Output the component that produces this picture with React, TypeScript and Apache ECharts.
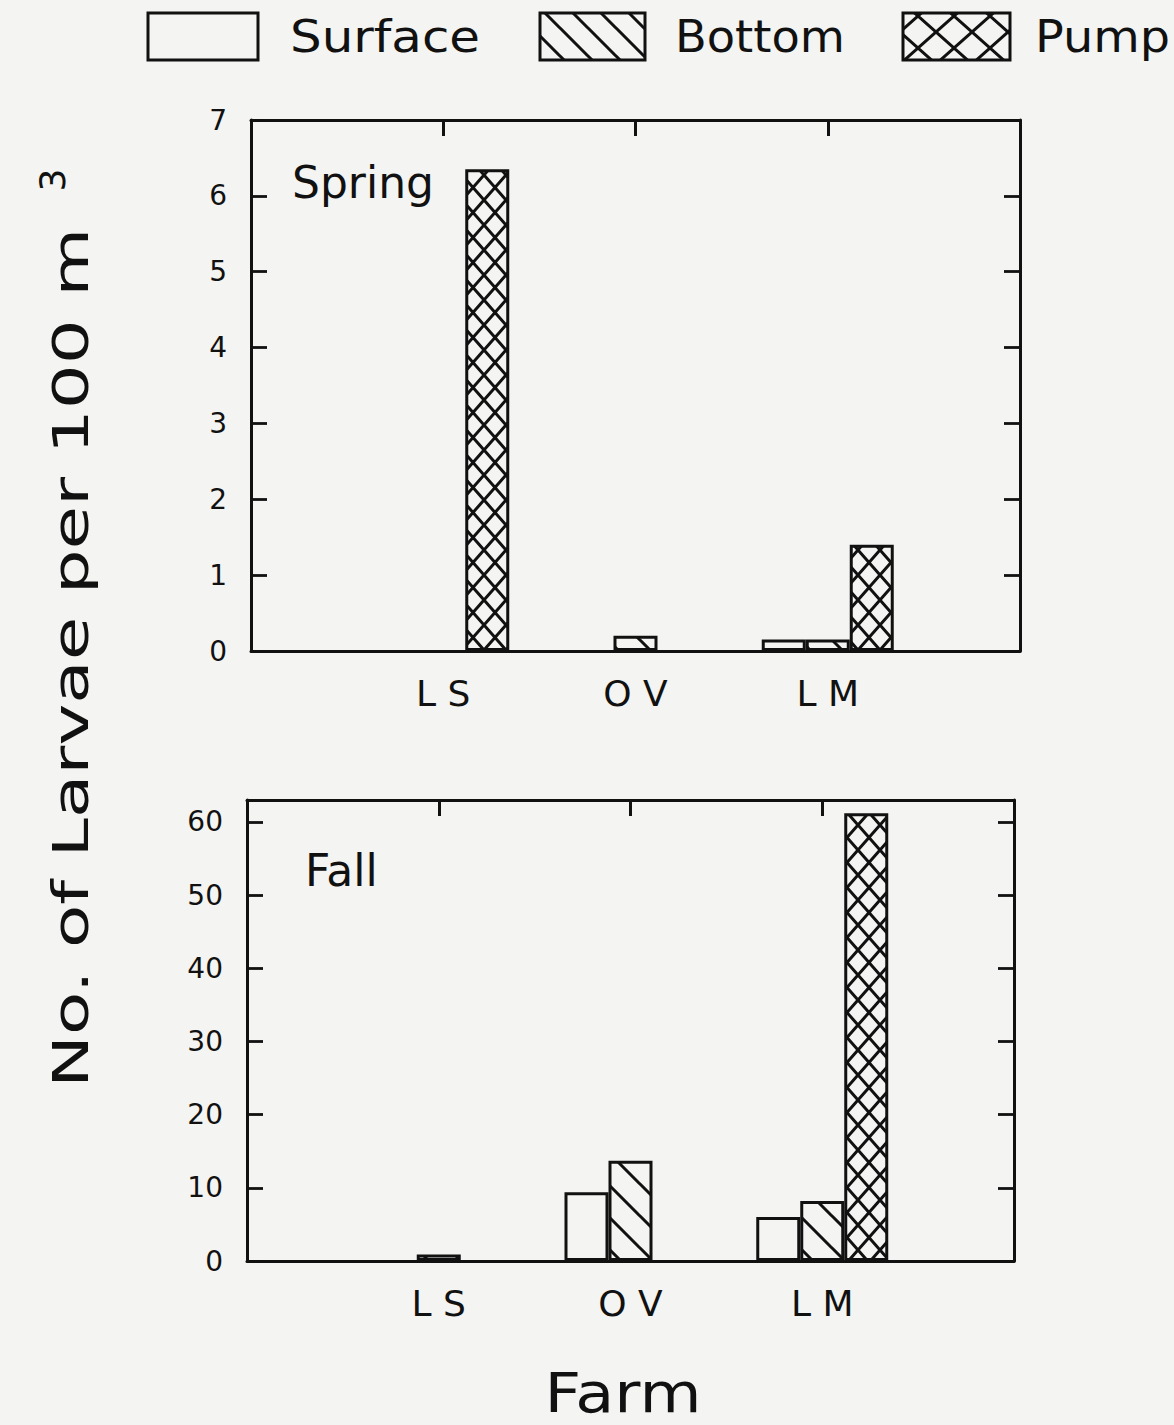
import React, { useEffect, useRef } from "react";
import * as echarts from "echarts";

// ---- data ----
const farms = ["", "L S", "O V", "L M", ""];
const seriesNames = ["Surface", "Bottom", "Pump"];
const springSurface: (number | string)[] = ["-", "-", "-", 0.15, "-"];
const springBottom: (number | string)[] = ["-", "-", 0.2, 0.15, "-"];
const springPump: (number | string)[] = ["-", 6.35, "-", 1.4, "-"];
const fallSurface: (number | string)[] = ["-", "-", 9.4, 6.0, "-"];
const fallBottom: (number | string)[] = ["-", 0.9, 13.7, 8.2, "-"];
const fallPump: (number | string)[] = ["-", "-", "-", 61.2, "-"];
const springAxis = { min: 0, max: 7, interval: 1 };
const fallAxis = { min: 0, max: 63, interval: 10 };
const panelTitles = ["Spring", "Fall"];
const yTitle = "No. of Larvae per 100 m";
const yTitleSup = "3";
const xTitle = "Farm";

const INK = "#111111";
const BG = "#f4f4f2";
const FONT = "DejaVu Sans";

function makeHatch(w: number, h: number, lw: number, cross: boolean) {
  const c = document.createElement("canvas");
  c.width = w;
  c.height = h;
  const g = c.getContext("2d")!;
  g.strokeStyle = INK;
  g.lineWidth = lw;
  g.beginPath();
  for (let k = -1; k <= 1; k++) {
    g.moveTo(-w, -h + k * h);
    g.lineTo(2 * w, 2 * h + k * h);
  }
  if (cross) {
    for (let k = 0; k <= 2; k++) {
      g.moveTo(-w, h + k * h);
      g.lineTo(2 * w, -2 * h + k * h);
    }
  }
  g.stroke();
  return c;
}

function fitScale(text: string, size: number, target: number) {
  const c = document.createElement("canvas").getContext("2d")!;
  c.font = `${size}px "${FONT}"`;
  const w = c.measureText(text).width;
  return w > 0 ? target / w : 1;
}

export default function App() {
  const ref = useRef<HTMLDivElement>(null);
  useEffect(() => {
    if (!ref.current) return;
    const chart = echarts.init(ref.current, undefined, { renderer: "svg" });

    const hatch = { image: makeHatch(32, 32, 3, false), repeat: "repeat" };
    const crossP = { image: makeHatch(22, 25, 3, true), repeat: "repeat" };
    const hatchL = { image: makeHatch(28, 28, 3, false), repeat: "repeat" };
    const crossL = { image: makeHatch(36, 32, 3, true), repeat: "repeat" };
    const fills: any[] = ["rgba(0,0,0,0)", hatch, crossP];
    const legendFills: any[] = [BG, hatchL, crossL];

    const grids = [
      { left: 251, top: 120, width: 769, height: 531 },
      { left: 247, top: 800, width: 767, height: 461 },
    ];
    const axes = [springAxis, fallAxis];

    const xAxis: any[] = [];
    const yAxis: any[] = [];
    grids.forEach((_, gi) => {
      xAxis.push({
        type: "category",
        gridIndex: gi,
        data: farms,
        boundaryGap: false,
        position: "bottom",
        axisLine: { show: true, onZero: false, lineStyle: { color: INK, width: 3 } },
        axisTick: { show: false },
        axisLabel: {
          interval: 0,
          color: INK,
          fontFamily: FONT,
          fontSize: 36,
          margin: 24,
        },
        splitLine: { show: false },
      });
      xAxis.push({
        type: "category",
        gridIndex: gi,
        data: farms,
        boundaryGap: false,
        position: "top",
        axisLine: { show: true, onZero: false, lineStyle: { color: INK, width: 3 } },
        axisTick: {
          show: true,
          inside: true,
          length: 16,
          interval: (i: number) => i >= 1 && i <= 3,
          lineStyle: { color: INK, width: 3 },
        },
        axisLabel: { show: false },
        splitLine: { show: false },
      });
      const a = axes[gi];
      yAxis.push({
        type: "value",
        gridIndex: gi,
        position: "left",
        min: a.min,
        max: a.max,
        interval: a.interval,
        axisLine: { show: true, onZero: false, lineStyle: { color: INK, width: 3 } },
        axisTick: { show: true, inside: true, length: 16, lineStyle: { color: INK, width: 2.8 } },
        axisLabel: {
          color: INK,
          fontFamily: FONT,
          fontSize: 28,
          margin: 24,
          showMaxLabel: a.max % a.interval === 0,
        },
        splitLine: { show: false },
      });
      yAxis.push({
        type: "value",
        gridIndex: gi,
        position: "right",
        min: a.min,
        max: a.max,
        interval: a.interval,
        axisLine: { show: true, onZero: false, lineStyle: { color: INK, width: 3 } },
        axisTick: { show: true, inside: true, length: 16, lineStyle: { color: INK, width: 2.8 } },
        axisLabel: { show: false },
        splitLine: { show: false },
      });
    });

    const panels = [
      [springSurface, springBottom, springPump],
      [fallSurface, fallBottom, fallPump],
    ];
    const series: any[] = [];
    panels.forEach((arrs, gi) => {
      arrs.forEach((data, si) => {
        series.push({
          type: "bar",
          name: seriesNames[si],
          data,
          xAxisIndex: gi * 2,
          yAxisIndex: gi * 2,
          barWidth: 44,
          barGap: "0%",
          silent: true,
          itemStyle: { color: fills[si], borderColor: INK, borderWidth: 3 },
        });
      });
    });

    const graphic: any[] = [];
    // legend
    const legendBoxes = [
      { x: 148, w: 110, tx: 290, tw: 190 },
      { x: 540, w: 105, tx: 675, tw: 170 },
      { x: 903, w: 107, tx: 1035, tw: 135 },
    ];
    legendBoxes.forEach((b, i) => {
      graphic.push({
        type: "rect",
        shape: { x: b.x, y: 13, width: b.w, height: 47 },
        style: { fill: legendFills[i], stroke: INK, lineWidth: 3 },
      });
      graphic.push({
        type: "text",
        x: b.tx,
        y: 37,
        scaleX: fitScale(seriesNames[i], 44, b.tw),
        style: {
          text: seriesNames[i],
          fontFamily: FONT,
          fontSize: 44,
          fill: INK,
          align: "left",
          verticalAlign: "middle",
        },
      });
    });
    // panel titles
    graphic.push({
      type: "text",
      x: 292,
      y: 182,
      style: { text: panelTitles[0], fontFamily: FONT, fontSize: 44, fill: INK, verticalAlign: "middle" },
    });
    graphic.push({
      type: "text",
      x: 305,
      y: 870,
      style: { text: panelTitles[1], fontFamily: FONT, fontSize: 44, fill: INK, verticalAlign: "middle" },
    });
    // x title
    graphic.push({
      type: "text",
      x: 623,
      y: 1392,
      scaleX: fitScale(xTitle, 56, 157),
      style: { text: xTitle, fontFamily: FONT, fontSize: 56, fill: INK, align: "center", verticalAlign: "middle" },
    });
    // y title
    graphic.push({
      type: "text",
      x: 70,
      y: 1088,
      rotation: Math.PI / 2,
      scaleX: fitScale(yTitle, 50, 860),
      style: { text: yTitle, fontFamily: FONT, fontSize: 50, fill: INK, align: "left", verticalAlign: "middle" },
    });
    graphic.push({
      type: "text",
      x: 52,
      y: 180,
      rotation: Math.PI / 2,
      style: { text: yTitleSup, fontFamily: FONT, fontSize: 36, fill: INK, align: "center", verticalAlign: "middle" },
    });

    chart.setOption({
      animation: false,
      backgroundColor: BG,
      grid: grids.map((g) => ({ ...g, containLabel: false })),
      xAxis,
      yAxis,
      series,
      graphic,
    });
    return () => chart.dispose();
  }, []);
  return (
    <div
      ref={ref}
      style={{ position: "fixed", left: 0, top: 0, width: 1174, height: 1425 }}
    />
  );
}
